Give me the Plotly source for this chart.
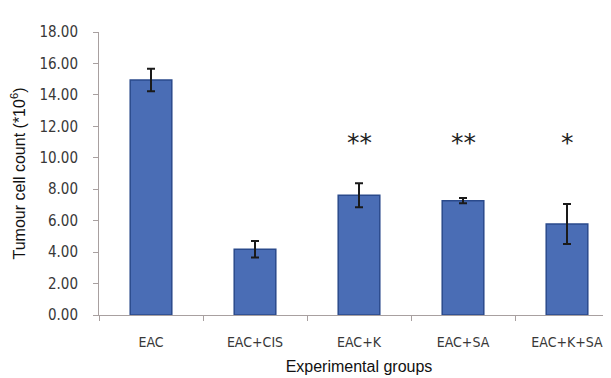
import plotly.graph_objects as go

groups = ["EAC", "EAC+CIS", "EAC+K", "EAC+SA", "EAC+K+SA"]
means = [14.95, 4.18, 7.62, 7.27, 5.79]
errors = [0.72, 0.52, 0.76, 0.17, 1.27]
stars = ["", "", "**", "**", "*"]
star_level = 11.0
y_ticks = [0, 2, 4, 6, 8, 10, 12, 14, 16, 18]

fig = go.Figure()
fig.add_trace(go.Bar(
    x=groups, y=means,
    marker=dict(color="#4A6DB5", line=dict(color="#2A4A8C", width=1.5)),
    error_y=dict(type="data", array=errors, color="#1a1a1a", thickness=2, width=4),
    width=0.4,
))

for g, s in zip(groups, stars):
    if s:
        fig.add_annotation(x=g, y=star_level, text=s, showarrow=False,
                           font=dict(family="DejaVu Sans, sans-serif", size=25, color="#222222"),
                           yanchor="middle")

fam = "DejaVu Sans Condensed, Liberation Sans Narrow, sans-serif"
fig.update_layout(
    width=611, height=378,
    margin=dict(l=91, r=0, t=24, b=71),
    paper_bgcolor="white", plot_bgcolor="white",
    showlegend=False,
    xaxis=dict(
        showline=True, linecolor="#a8a0a0", linewidth=1,
        ticks="outside", tickson="boundaries", ticklen=5, tickcolor="#a8a0a0",
        tickfont=dict(family=fam, size=14, color="#383838"), ticklabelstandoff=14,
        title=dict(text="Experimental groups", font=dict(family="Liberation Sans, Arial, sans-serif", size=16, color="#111111"), standoff=12),
    ),
    yaxis=dict(
        range=[0, 18], tickvals=y_ticks,
        ticktext=[f"{v:.2f}" for v in y_ticks],
        showline=True, linecolor="#a8a0a0", linewidth=1,
        ticks="outside", ticklen=5, tickcolor="#a8a0a0",
        showgrid=False, zeroline=False,
        tickfont=dict(family=fam, size=15, color="#383838"), ticklabelstandoff=12,
        title=dict(text="Tumour cell count (*10<sup>6</sup>)", font=dict(family="Liberation Sans, Arial, sans-serif", size=16, color="#111111"), standoff=10),
    ),
)

fig.write_html("out.html")
